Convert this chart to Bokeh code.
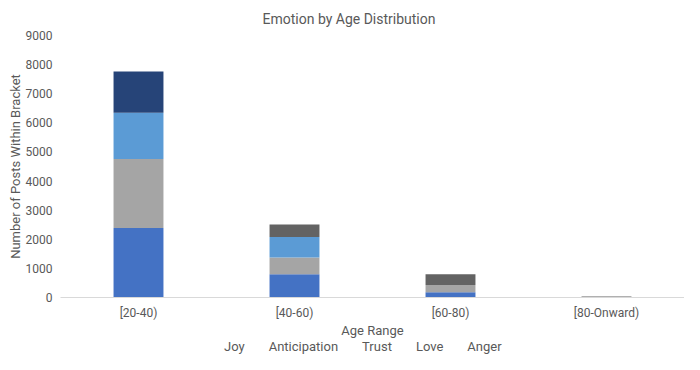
from bokeh.plotting import figure
from bokeh.layouts import column
from bokeh.models import (ColumnDataSource, Legend, LegendItem, Range1d, FactorRange,
                          SingleIntervalTicker, CDSView, IndexFilter)
from bokeh.embed import file_html
from bokeh.resources import INLINE

ages = ["[20-40)", "[40-60)", "[60-80)", "[80-Onward)"]
joy = [2390, 800, 180, 15]
anticipation = [2370, 575, 250, 5]
trust = [1590, 700, 0, 0]
love = [1410, 0, 0, 0]
anger = [0, 430, 370, 15]

emotions = ["Joy", "Anticipation", "Trust", "Love", "Anger"]
colors = ["#4472C4", "#A5A5A5", "#5B9BD5", "#264478", "#636363"]

source = ColumnDataSource(dict(age=ages, Joy=joy, Anticipation=anticipation,
                               Trust=trust, Love=love, Anger=anger))

FONT = "Roboto"
TXT = "#595959"

x_range = FactorRange(*ages)

p = figure(x_range=x_range, y_range=Range1d(0, 9000),
           width=684, height=340, output_backend="svg", toolbar_location=None,
           min_border_left=60, min_border_right=0, min_border_top=32, min_border_bottom=42)

p.vbar_stack(emotions, x="age", width=0.32, color=colors, source=source, line_color=None)

p.title.text = "Emotion by Age Distribution"
p.title.align = "left"
p.title.offset = 202
p.title.text_font = FONT
p.title.text_font_size = "14px"
p.title.text_font_style = "normal"
p.title.text_color = TXT
p.title.standoff = 17

p.xgrid.visible = False
p.ygrid.visible = False
p.outline_line_color = None

p.yaxis.ticker = SingleIntervalTicker(interval=1000)
p.yaxis.axis_line_color = None
p.yaxis.major_tick_line_color = None
p.yaxis.minor_tick_line_color = None
p.yaxis.major_tick_out = 0
p.yaxis.minor_tick_out = 0
p.yaxis.major_label_standoff = 8
p.yaxis.major_label_text_font = FONT
p.yaxis.major_label_text_font_size = "12px"
p.yaxis.major_label_text_color = TXT
p.yaxis.axis_label = "Number of Posts Within Bracket"
p.yaxis.axis_label_text_font = FONT
p.yaxis.axis_label_text_font_size = "13px"
p.yaxis.axis_label_text_font_style = "normal"
p.yaxis.axis_label_text_color = TXT
p.yaxis.axis_label_standoff = 0

p.xaxis.axis_line_color = "#D9D9D9"
p.xaxis.major_tick_line_color = None
p.xaxis.minor_tick_line_color = None
p.xaxis.major_tick_out = 0
p.xaxis.minor_tick_out = 0
p.xaxis.major_label_standoff = 8
p.xaxis.major_label_text_font = FONT
p.xaxis.major_label_text_font_size = "12px"
p.xaxis.major_label_text_color = TXT
p.xaxis.axis_label = "Age Range"
p.xaxis.axis_label_text_font = FONT
p.xaxis.axis_label_text_font_size = "13px"
p.xaxis.axis_label_text_font_style = "normal"
p.xaxis.axis_label_text_color = TXT
p.xaxis.axis_label_standoff = 0

# legend strip: one renderer per series with an empty view, so only the legend swatches show
lg = figure(x_range=x_range, y_range=Range1d(0, 9000), width=684, height=14,
            output_backend="svg", toolbar_location=None,
            x_axis_location=None, y_axis_location=None,
            min_border_left=0, min_border_right=0, min_border_top=0, min_border_bottom=0)
lg.xgrid.visible = False
lg.ygrid.visible = False
lg.outline_line_color = None
leg_renderers = []
for e, c in zip(emotions, colors):
    r = lg.vbar(x="age", top=e, width=0.32, color=c, line_color=None, source=source,
                view=CDSView(filter=IndexFilter(indices=[])))
    leg_renderers.append(r)

legend = Legend(items=[LegendItem(label=e, renderers=[r]) for e, r in zip(emotions, leg_renderers)],
                orientation="horizontal", location=(152, 0),
                glyph_width=8, glyph_height=8, label_text_font=FONT,
                label_text_font_size="13px", label_text_color=TXT,
                border_line_color=None, background_fill_alpha=0,
                spacing=12, padding=0, margin=0, label_standoff=4, label_height=14)
lg.add_layout(legend)

layout = column(p, lg, spacing=0)
open("out.html", "w").write(file_html(layout, INLINE))
